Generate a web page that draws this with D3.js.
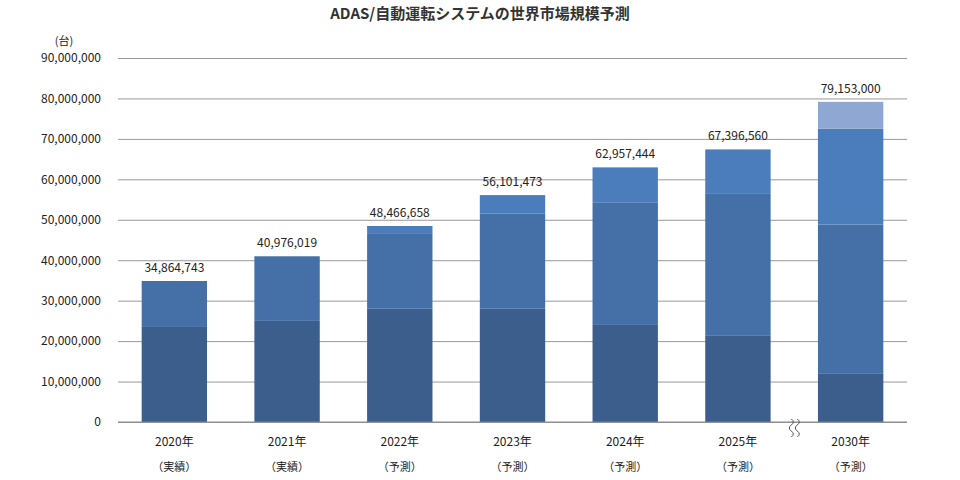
<!DOCTYPE html>
<html><head><meta charset="utf-8">
<script src="https://cdn.jsdelivr.net/npm/d3@7"></script>
<style>body{margin:0;background:#fff}text{font-family:"Noto Sans CJK JP","Noto Sans",sans-serif}</style>
</head><body><svg id="c" width="960" height="480"></svg>
<script>
const years = ["2020年", "2021年", "2022年", "2023年", "2024年", "2025年", "2030年"];
const notes = ["（実績）", "（実績）", "（予測）", "（予測）", "（予測）", "（予測）", "（予測）"];
const totals = [34864743, 40976019, 48466658, 56101473, 62957444, 67396560, 79153000];
const seg1 = [23.5e6, 25e6, 28e6, 28e6, 24e6, 21.3e6, 11.9e6];
const seg2 = [11364743, 15976019, 18.5e6, 23.5e6, 30.2e6, 35.1e6, 36.9e6];
const seg3 = [0, 0, 1966658, 4601473, 8757444, 10996560, 23.7e6];
const seg4 = [0, 0, 0, 0, 0, 0, 6653000];
const colors = ["#3b5e8d", "#4570a7", "#4b7dbc", "#8fa8d3"];
const yTicks = d3.range(0, 90000001, 10000000);

const svg = d3.select("#c");
const mL = 118, mR = 907, y0 = 422, y1 = 58;
const x = d3.scaleBand().domain(years).range([mL, mR]).paddingInner(0.42).paddingOuter(0.21);
const y = d3.scaleLinear().domain([0, 90000000]).range([y0, y1]);

svg.append("text").attr("x", 480).attr("y", 19).attr("text-anchor", "middle")
    .style("font-size", "15px").style("font-weight", "bold").attr("fill", "#333")
    .text("ADAS/自動運転システムの世界市場規模予測");

// grid
svg.append("g").attr("transform", `translate(${mL},0)`)
    .call(d3.axisLeft(y).tickValues(yTicks).tickSize(-(mR - mL)).tickFormat(""))
    .call(g => g.select(".domain").remove())
    .call(g => g.selectAll(".tick line").attr("stroke", "#999").attr("stroke-width", 1));

// y labels
svg.append("g").attr("transform", `translate(${mL - 14},0)`)
    .call(d3.axisLeft(y).tickValues(yTicks).tickSize(0).tickFormat(d3.format(",")))
    .call(g => g.select(".domain").remove())
    .call(g => g.selectAll("text").style("font-size", "12px").attr("fill", "#222"));
svg.append("text").attr("x", 64).attr("y", 45).attr("text-anchor", "middle")
    .style("font-size", "11px").attr("fill", "#222").text("(台)");

// stacked bars
const rows = years.map((yr, i) => ({ yr, s: [seg1[i], seg2[i], seg3[i], seg4[i]] }));
const stack = d3.stack().keys([0, 1, 2, 3]).value((d, k) => d.s[k])(rows);
svg.append("g").selectAll("g").data(stack).join("g").attr("fill", (d, k) => colors[k])
    .selectAll("rect").data(d => d).join("rect")
    .attr("x", d => x(d.data.yr)).attr("width", x.bandwidth())
    .attr("y", d => y(d[1])).attr("height", d => y(d[0]) - y(d[1]));

// totals
svg.append("g").selectAll("text").data(totals).join("text")
    .attr("x", (d, i) => x(years[i]) + x.bandwidth() / 2).attr("y", d => y(d) - 9)
    .attr("text-anchor", "middle").style("font-size", "12px").attr("fill", "#222")
    .text(d3.format(","));

// baseline
svg.append("line").attr("x1", mL).attr("x2", mR).attr("y1", y0).attr("y2", y0).attr("stroke", "#888");

// x labels
const xl = svg.append("g").selectAll("g").data(years).join("g")
    .attr("transform", d => `translate(${x(d) + x.bandwidth() / 2},0)`);
xl.append("text").attr("y", 446).attr("text-anchor", "middle").style("font-size", "12px").attr("fill", "#222").text(d => d);
xl.append("text").attr("y", 471).attr("text-anchor", "middle").style("font-size", "11px").attr("fill", "#222").text((d, i) => notes[i]);

// break marks
const bx = (x(years[5]) + x.bandwidth() + x(years[6])) / 2;
[-3, 3].forEach(dx => {
    svg.append("path").attr("fill", "none").attr("stroke", "#555").attr("stroke-width", 1)
        .attr("d", `M${bx + dx},419 q4,3 0,6 q-4,3 0,6 q4,3 0,6`);
});
</script></body></html>
